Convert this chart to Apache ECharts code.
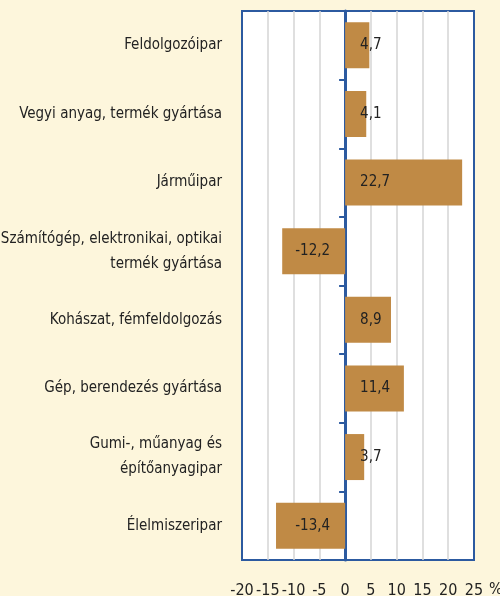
<!DOCTYPE html>
<html>
<head>
<meta charset="utf-8">
<script src="https://cdn.jsdelivr.net/npm/echarts@6/dist/echarts.min.js"></script>
<style>
  html, body { margin: 0; padding: 0; background: #fdf6dc; }
  #chart { width: 500px; height: 596px; }
</style>
</head>
<body>
<div id="chart"></div>
<script>
// ágazatok és változás (%)
var categories = [
  'Feldolgozóipar',
  'Vegyi anyag, termék gyártása',
  'Járműipar',
  'Számítógép, elektronikai, optikai\ntermék gyártása',
  'Kohászat, fémfeldolgozás',
  'Gép, berendezés gyártása',
  'Gumi-, műanyag és\népítőanyagipar',
  'Élelmiszeripar'
];
var values = [4.7, 4.1, 22.7, -12.2, 8.9, 11.4, 3.7, -13.4];
var xMin = -20, xMax = 25, xStep = 5;

var font = '"Liberation Sans Narrow", "DejaVu Sans Condensed", sans-serif';
var blue = '#2c5aa0';

var myChart = echarts.init(document.getElementById('chart'));

// pozitív értéknél a címke bal oldalt, negatívnál jobb oldalt (a nulla felé)
var barData = values.map(function (v) {
  return {
    value: v,
    label: { position: v < 0 ? 'insideRight' : 'insideLeft' }
  };
});

var option = {
  backgroundColor: '#fdf6dc',
  animation: false,
  grid: {
    left: 242, right: 26, top: 11, bottom: 36,
    outerBoundsMode: 'none',
    containLabel: false,
    show: true,
    backgroundColor: '#ffffff',
    borderColor: blue,
    borderWidth: 2
  },
  xAxis: {
    type: 'value',
    min: xMin, max: xMax, interval: xStep,
    name: '%',
    nameLocation: 'end',
    nameGap: 8,
    nameTextStyle: {
      fontFamily: font, fontSize: 16, color: '#222',
      verticalAlign: 'top', lineHeight: 60
    },
    axisLine: { show: false },
    axisTick: { show: false },
    axisLabel: {
      fontFamily: font, fontSize: 16, color: '#222', margin: 23
    },
    splitLine: {
      show: true, showMinLine: false, showMaxLine: false,
      lineStyle: { color: '#d4d4d4', width: 1.5 }
    }
  },
  yAxis: [
    {
      type: 'category',
      data: categories,
      inverse: true,
      position: 'left',
      axisLine: { show: false, onZero: false },
      axisTick: { show: false },
      axisLabel: {
        fontFamily: font, fontSize: 15, color: '#222',
        margin: 20, lineHeight: 25, align: 'right'
      }
    },
    {
      type: 'category',
      data: categories,
      inverse: true,
      position: 'left',
      axisLine: { show: true, onZero: true, lineStyle: { color: blue, width: 3 } },
      axisTick: { show: true, length: 6, lineStyle: { color: blue, width: 2 } },
      axisLabel: { show: false }
    }
  ],
  series: [
    {
      name: 'változás',
      type: 'bar',
      yAxisIndex: 0,
      barWidth: 46,
      itemStyle: { color: '#c08a45' },
      label: {
        show: true,
        distance: 15,
        fontFamily: font,
        fontSize: 15,
        color: '#222',
        formatter: function (p) {
          return String(p.value).replace('.', ',');
        }
      },
      data: barData
    }
  ]
};

myChart.setOption(option);
</script>
</body>
</html>
